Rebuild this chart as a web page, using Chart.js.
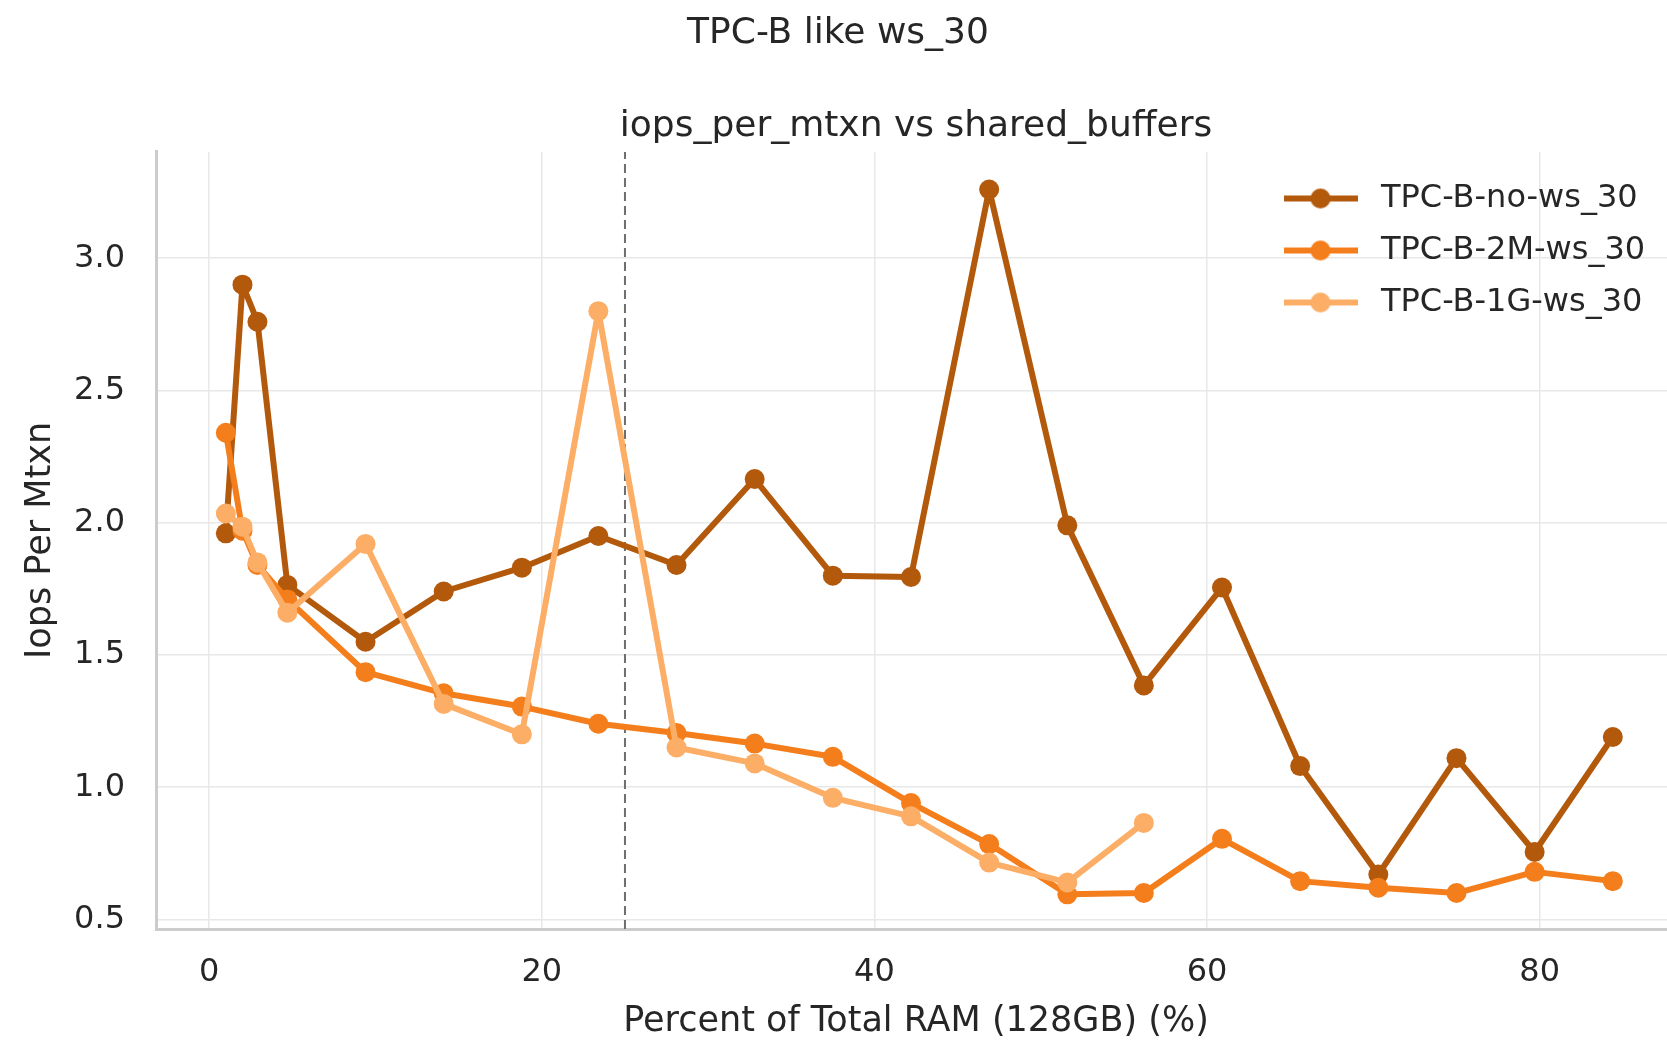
<!DOCTYPE html>
<html>
<head>
<meta charset="utf-8">
<title>TPC-B like ws_30</title>
<script src="https://cdn.jsdelivr.net/npm/chart.js@4/dist/chart.umd.min.js"></script>
<style>
  html, body { margin: 0; padding: 0; background: #ffffff; overflow: hidden; }
  #wrap { width: 1705px; height: 1040px; }
  canvas { display: block; }
</style>
</head>
<body>
<div id="wrap"><canvas id="chart" width="1705" height="1040" style="width:1705px;height:1040px"></canvas></div>
<script>
// shared_buffers as percent of total RAM (128GB)
const ramPercent = [1.0, 2.0, 2.9, 4.7, 9.4, 14.1, 18.8, 23.4, 28.1, 32.8, 37.5,
                    42.2, 46.9, 51.6, 56.2, 60.9, 65.6, 70.3, 75.0, 79.7, 84.4];

// iops per mtxn for each configuration
const iopsNoWs = [1.96, 2.90, 2.76, 1.765, 1.55, 1.74, 1.83, 1.95, 1.84, 2.165, 1.80,
                  1.795, 3.26, 1.99, 1.385, 1.755, 1.08, 0.67, 1.11, 0.755, 1.19];
const iops2M   = [2.34, 1.97, 1.84, 1.71, 1.435, 1.355, 1.305, 1.24, 1.205, 1.165, 1.115,
                  0.94, 0.785, 0.595, 0.60, 0.805, 0.645, 0.62, 0.60, 0.68, 0.645];
const iops1G   = [2.035, 1.985, 1.85, 1.66, 1.92, 1.315, 1.20, 2.80, 1.15, 1.09, 0.96,
                  0.89, 0.715, 0.64, 0.865];

const seriesNames = ['TPC-B-no-ws_30', 'TPC-B-2M-ws_30', 'TPC-B-1G-ws_30'];
const seriesColors = ['#b3590c', '#f57e1c', '#fcae66'];

// 25% of RAM reference marker
const markerPercent = 25;

const xTicks = [0, 20, 40, 60, 80];
const xTickLabels = ['0', '20', '40', '60', '80'];
const yTicks = [0.5, 1.0, 1.5, 2.0, 2.5, 3.0];
const yTickLabels = ['0.5', '1.0', '1.5', '2.0', '2.5', '3.0'];

const X_MIN = -3.2, X_MAX = 88.2;
const Y_MIN = 0.464, Y_MAX = 3.402;

const FONT = 'DejaVu Sans';
const TEXT = '#262626';
const LINE_W = 6;
const POINT_R = 10;

function toPoints(xs, ys) {
  return ys.map((y, i) => ({ x: xs[i], y: y }));
}

// small line+marker swatch used as legend handle
function legendHandle(color) {
  const c = document.createElement('canvas');
  c.width = 74; c.height = 24;
  const g = c.getContext('2d');
  g.strokeStyle = color;
  g.lineWidth = LINE_W;
  g.beginPath(); g.moveTo(0, 12); g.lineTo(74, 12); g.stroke();
  g.fillStyle = color;
  g.beginPath(); g.arc(37, 12, POINT_R, 0, Math.PI * 2); g.fill();
  return c;
}

function seriesDataset(i, ys, order) {
  return {
    label: seriesNames[i],
    data: toPoints(ramPercent, ys),
    borderColor: seriesColors[i],
    backgroundColor: seriesColors[i],
    borderWidth: LINE_W,
    borderJoinStyle: 'round',
    borderCapStyle: 'round',
    pointRadius: POINT_R,
    pointBorderWidth: 0,
    pointBackgroundColor: seriesColors[i],
    tension: 0,
    order: order
  };
}

const datasets = [
  seriesDataset(0, iopsNoWs, 3),
  seriesDataset(1, iops2M, 2),
  seriesDataset(2, iops1G, 1),
  {
    label: 'ram25',
    data: [{ x: markerPercent, y: Y_MIN }, { x: markerPercent, y: Y_MAX }],
    borderColor: '#6e6e6e',
    borderWidth: 2,
    borderDash: [9, 5],
    pointRadius: 0,
    order: 4,
    clip: false
  }
];

// place the legend box in the upper right corner of the plot
const legendPlacer = {
  id: 'legendPlacer',
  afterLayout(chart) {
    const lg = chart.legend;
    if (!lg) return;
    lg.left = 1256; lg.top = 162.5;
    lg.right = lg.left + 440; lg.bottom = lg.top + 220;
  }
};

new Chart(document.getElementById('chart'), {
  type: 'line',
  data: { datasets: datasets },
  options: {
    responsive: false,
    animation: false,
    devicePixelRatio: 1,
    events: [],
    layout: { padding: { left: 0, right: 29, top: 0, bottom: 0 } },
    plugins: {
      tooltip: { enabled: false },
      title: {
        display: true,
        text: 'TPC-B like ws_30',
        color: TEXT,
        font: { family: FONT, size: 36, weight: 'normal', lineHeight: 1.2 },
        padding: { top: 12.5, bottom: 0 }
      },
      subtitle: {
        display: true,
        fullSize: false,
        text: 'iops_per_mtxn vs shared_buffers',
        color: TEXT,
        font: { family: FONT, size: 36, weight: 'normal', lineHeight: 1.2 },
        padding: { top: 49, bottom: 4 }
      },
      legend: {
        display: true,
        position: 'chartArea',
        align: 'start',
        labels: {
          usePointStyle: true,
          pointStyleWidth: 89,
          padding: 20,
          color: TEXT,
          font: { family: FONT, size: 32 },
          generateLabels(chart) {
            return seriesNames.map((name, i) => ({
              text: name,
              fillStyle: seriesColors[i],
              strokeStyle: seriesColors[i],
              lineWidth: 0,
              pointStyle: legendHandle(seriesColors[i]),
              hidden: false,
              datasetIndex: i,
              fontColor: TEXT
            }));
          }
        }
      }
    },
    scales: {
      x: {
        type: 'linear',
        min: X_MIN,
        max: X_MAX,
        afterBuildTicks(scale) { scale.ticks = xTicks.map(v => ({ value: v })); },
        afterFit(scale) { scale.height = 111; },
        ticks: {
          padding: 24,
          color: TEXT,
          font: { family: FONT, size: 32 },
          maxRotation: 0,
          callback: (v, i) => xTickLabels[i]
        },
        grid: { color: '#e8e8e8', lineWidth: 1.5, drawTicks: false },
        border: { display: true, color: '#cccccc', width: 3 },
        title: {
          display: true,
          text: 'Percent of Total RAM (128GB) (%)',
          color: TEXT,
          font: { family: FONT, size: 35, lineHeight: 1.03 },
          padding: { top: 0, bottom: 0 }
        }
      },
      y: {
        type: 'linear',
        min: Y_MIN,
        max: Y_MAX,
        afterBuildTicks(scale) { scale.ticks = yTicks.map(v => ({ value: v })); },
        afterFit(scale) { scale.width = 156; },
        ticks: {
          padding: 31,
          color: TEXT,
          font: { family: FONT, size: 32 },
          callback: (v, i) => yTickLabels[i]
        },
        grid: { color: '#e8e8e8', lineWidth: 1.5, drawTicks: false },
        border: { display: true, color: '#cccccc', width: 3 },
        title: {
          display: true,
          text: 'Iops Per Mtxn',
          color: TEXT,
          font: { family: FONT, size: 35, lineHeight: 1.2 },
          padding: { top: 20, bottom: 0 }
        }
      }
    }
  },
  plugins: [legendPlacer]
});
</script>
</body>
</html>
